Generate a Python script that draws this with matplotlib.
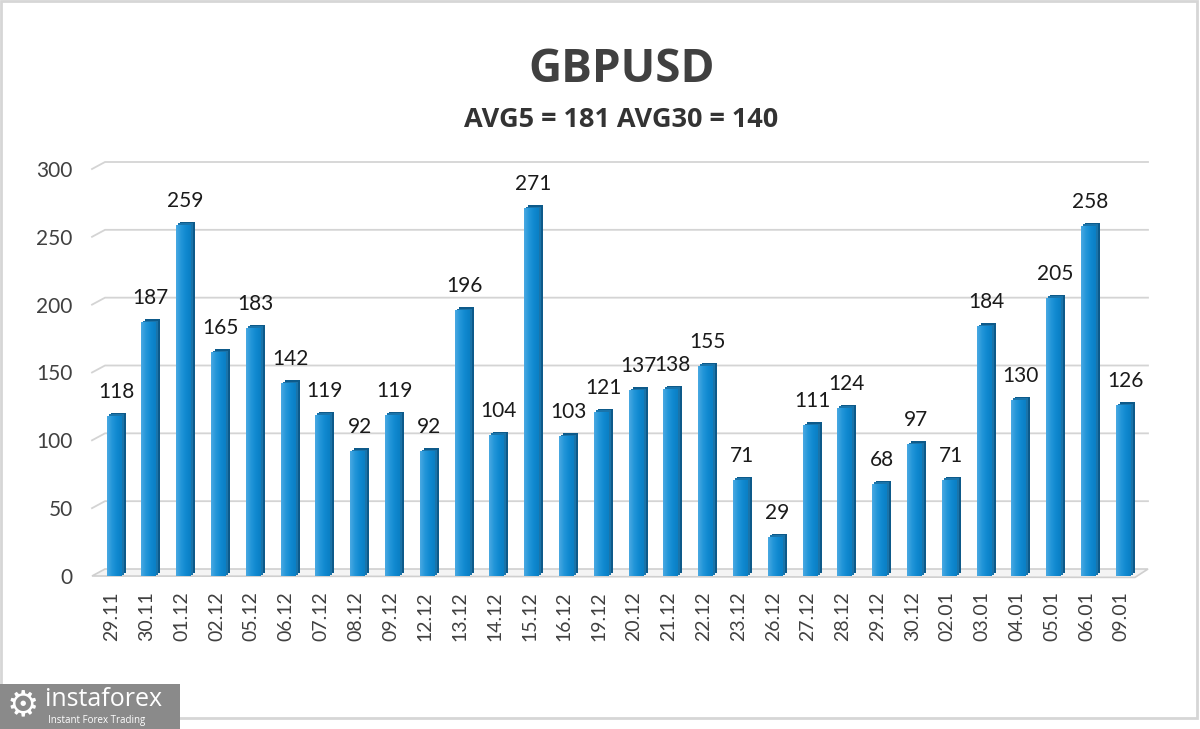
import numpy as np
import matplotlib
matplotlib.use("Agg")
import matplotlib.pyplot as plt
from matplotlib.transforms import ScaledTranslation
from matplotlib.patches import Rectangle, Polygon
from matplotlib.colors import LinearSegmentedColormap

# ---- data ----
dates = ["29.11", "30.11", "01.12", "02.12", "05.12", "06.12", "07.12", "08.12",
         "09.12", "12.12", "13.12", "14.12", "15.12", "16.12", "19.12", "20.12",
         "21.12", "22.12", "23.12", "26.12", "27.12", "28.12", "29.12", "30.12",
         "02.01", "03.01", "04.01", "05.01", "06.01", "09.01"]
values = [118, 187, 259, 165, 183, 142, 119, 92, 119, 92, 196, 104, 271, 103,
          121, 137, 138, 155, 71, 29, 111, 124, 68, 97, 71, 184, 130, 205, 258, 126]
yticks = [0, 50, 100, 150, 200, 250, 300]
title = "GBPUSD"
subtitle = "AVG5 = 181 AVG30 = 140"

W, H = 1200, 729
fig = plt.figure(figsize=(W / 100, H / 100), dpi=100)
fig.patch.set_facecolor("white")
FONT = "Lato"
TXT = "#404040"

# axes placement in pixels
px_left, px_right, px_bottom, px_top = 92, 1148, 576, 169
ax = fig.add_axes([px_left / W, 1 - px_bottom / H,
                   (px_right - px_left) / W, (px_bottom - px_top) / H])
ax.set_facecolor("none")
n = len(values)
spacing_px = 34.8
xmin = -22 / spacing_px
xmax = xmin + (px_right - px_left) / spacing_px
ax.set_xlim(xmin, xmax)
ax.set_ylim(0, 300)
for s in ax.spines.values():
    s.set_visible(False)

unit_y = (px_bottom - px_top) / 300.0
dx = 13 / spacing_px
dy = 7 / unit_y

# gridlines with 3D back-wall slant
for v in yticks:
    if v == 0:
        floor = Polygon([(xmin, 0), (xmin + dx, dy), (xmax, dy), (xmax - dx, -0.2 * dy)],
                        closed=True, facecolor="#f4f4f4", edgecolor="#cfcfcf",
                        lw=1.2, zorder=1, clip_on=False)
        ax.add_patch(floor)
    else:
        ax.plot([xmin, xmin + dx, xmax], [v, v + dy, v + dy], color="#d4d4d4",
                lw=1.3, zorder=1, clip_on=False)

x = np.arange(n)
bw = 15 / spacing_px

# depth (side/top) of bars via offset transform
off = ax.transData + ScaledTranslation(4 / 100, 3 / 100, fig.dpi_scale_trans)
ax.bar(x, values, width=bw, color="#0d5a8a", transform=off, zorder=2, linewidth=0)
off2 = ax.transData + ScaledTranslation(2 / 100, 1.5 / 100, fig.dpi_scale_trans)
ax.bar(x, values, width=bw, color="#1a74aa", transform=off2, zorder=2.5, linewidth=0)

# front faces with horizontal gradient
cmap = LinearSegmentedColormap.from_list("barg", ["#4aa9e2", "#2396d9", "#1089d0", "#0a7fc4"])
grad = np.linspace(0, 1, 64).reshape(1, -1)
bars = ax.bar(x, values, width=bw, color="#1a8fd4", zorder=3, linewidth=0)
for b in bars:
    x0, w_, h_ = b.get_x(), b.get_width(), b.get_height()
    im = ax.imshow(grad, cmap=cmap, aspect="auto", extent=(x0, x0 + w_, 0, h_),
                   zorder=3.5, interpolation="bicubic")
    im.set_clip_path(b)

ax.set_xlim(xmin, xmax)
ax.set_ylim(0, 300)

# value labels
for xi, v in zip(x, values):
    ax.annotate(str(v), (xi, v), xytext=(2, 14), textcoords="offset pixels",
                ha="center", va="bottom", fontsize=15, color="#1a1a1a",
                family=FONT, zorder=5)

# y ticks
ax.set_yticks(yticks)
ax.set_yticklabels([str(t) for t in yticks], fontsize=15, color=TXT, family=FONT)
ax.tick_params(axis="y", length=0, pad=14)
# x ticks
ax.set_xticks(x)
ax.set_xticklabels(dates, rotation=90, fontsize=14, color=TXT, family=FONT)
ax.tick_params(axis="x", length=0, pad=11)
for lab in ax.get_xticklabels():
    lab.set_transform(lab.get_transform() + ScaledTranslation(-2 / 100, 0, fig.dpi_scale_trans))

# titles
fig.text(622 / W, 1 - 69 / H, title, ha="center", va="center", fontsize=33,
         fontweight="bold", color=TXT, family="Open Sans")
fig.text(621 / W, 1 - 120 / H, subtitle, ha="center", va="center", fontsize=19.5,
         fontweight="bold", color="#333333", family="Open Sans")

# outer border
fig.add_artist(Rectangle((1 / W, 1 - 718 / H), 1196 / W, 717 / H,
                         transform=fig.transFigure, fill=False,
                         edgecolor="#d6d6d6", lw=2, zorder=0))

# logo
fig.add_artist(Rectangle((0, 0), 180 / W, (729 - 684) / H, transform=fig.transFigure,
                         facecolor="#8a8a8a", edgecolor="none", zorder=10))
fig.text(23 / W, 1 - 705 / H, "\u2699", ha="center", va="center", fontsize=26,
         color="white", family="DejaVu Sans", zorder=11)
fig.text(45 / W, 1 - 699 / H, "instaforex", ha="left", va="center", fontsize=18,
         color="white", family="Open Sans", zorder=11)
fig.text(48 / W, 1 - 720 / H, "Instant Forex Trading", ha="left", va="center",
         fontsize=7, color="white", family="Open Sans", zorder=11)

fig.savefig("out.png", dpi=100, facecolor="white")
